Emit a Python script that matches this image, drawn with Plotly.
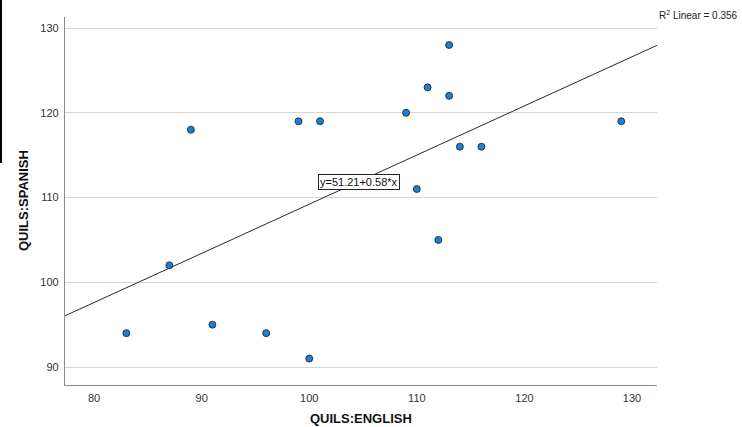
import plotly.graph_objects as go

# QUILS scores: English (x) vs Spanish (y)
english = [83, 87, 89, 91, 96, 99, 100, 101, 109, 110, 111, 112, 113, 113, 114, 116, 129]
spanish = [94, 102, 118, 95, 94, 119, 91, 119, 120, 111, 123, 105, 128, 122, 116, 116, 119]

# Fitted linear model reported in the chart
intercept = 51.21
slope = 0.58
r_squared = 0.356

x_range = [77.3, 132.32]
y_range = [87.88, 131.3]
x_ticks = [80, 90, 100, 110, 120, 130]
y_ticks = [90, 100, 110, 120, 130]

W, H = 742, 427
ml, mr, mt, mb = 65, 85, 17, 42
pw, ph = W - ml - mr, H - mt - mb

fig = go.Figure()

fit_x = list(x_range)
fit_y = [intercept + slope * v for v in fit_x]
fig.add_trace(go.Scatter(
    x=fit_x, y=fit_y, mode="lines",
    line=dict(color="#2a2a2a", width=1),
    hoverinfo="skip", showlegend=False,
))

fig.add_trace(go.Scatter(
    x=english, y=spanish, mode="markers",
    marker=dict(size=7, color="#1f7fd2", line=dict(color="#1c1c1c", width=0.8)),
    showlegend=False,
))

label_x = 104.6
fig.add_annotation(
    x=label_x, y=intercept + slope * label_x, xref="x", yref="y",
    text=f"y={intercept:.2f}+{slope:.2f}*x", showarrow=False,
    font=dict(family="Liberation Sans, Arial, sans-serif", size=11, color="#111111"),
    bgcolor="white", bordercolor="#222222", borderwidth=1, borderpad=1,
)

fig.add_annotation(
    x=1.0, y=1.0, xref="paper", yref="paper", xanchor="left", yanchor="middle",
    yshift=2,
    text=f"R<sup>2</sup> Linear = {r_squared:.3f}", showarrow=False,
    font=dict(family="Liberation Sans, Arial, sans-serif", size=10, color="#222222"),
)

title_font = dict(family="Liberation Sans, Arial, sans-serif", size=13, color="#111111")

# axis titles
fig.add_annotation(
    x=0.5, y=(H - mb - 418) / ph, xref="paper", yref="paper",
    xanchor="center", yanchor="middle", showarrow=False,
    text="<b>QUILS:ENGLISH</b>", font=title_font,
)
fig.add_annotation(
    x=(23 - ml) / pw, y=0.5, xref="paper", yref="paper",
    xanchor="center", yanchor="middle", showarrow=False, textangle=-90,
    text="<b>QUILS:SPANISH</b>", font=title_font,
)

# thin dark bar along the left edge
fig.add_shape(
    type="rect", xref="paper", yref="paper",
    x0=-ml / pw, x1=(2 - ml) / pw,
    y0=(H - mb - 163) / ph, y1=(H - mb) / ph,
    fillcolor="black", line=dict(width=0),
)

axis_font = dict(family="Liberation Sans, Arial, sans-serif", size=11, color="#333333")

fig.update_xaxes(
    range=x_range, tickvals=x_ticks, ticks="", showgrid=False, zeroline=False,
    showline=True, linecolor="#8c8c8c", linewidth=1.2,
    tickfont=axis_font, ticklabelstandoff=3, automargin=False,
)
fig.update_yaxes(
    range=y_range, tickvals=y_ticks, ticks="", showgrid=True,
    gridcolor="#d6d6d6", gridwidth=1.2, zeroline=False,
    showline=True, linecolor="#8c8c8c", linewidth=1.2,
    tickfont=axis_font, ticklabelstandoff=3, automargin=False,
)

fig.update_layout(
    width=W, height=H,
    margin=dict(l=ml, r=mr, t=mt, b=mb, pad=0),
    plot_bgcolor="white", paper_bgcolor="white",
)

fig.write_html("out.html")
